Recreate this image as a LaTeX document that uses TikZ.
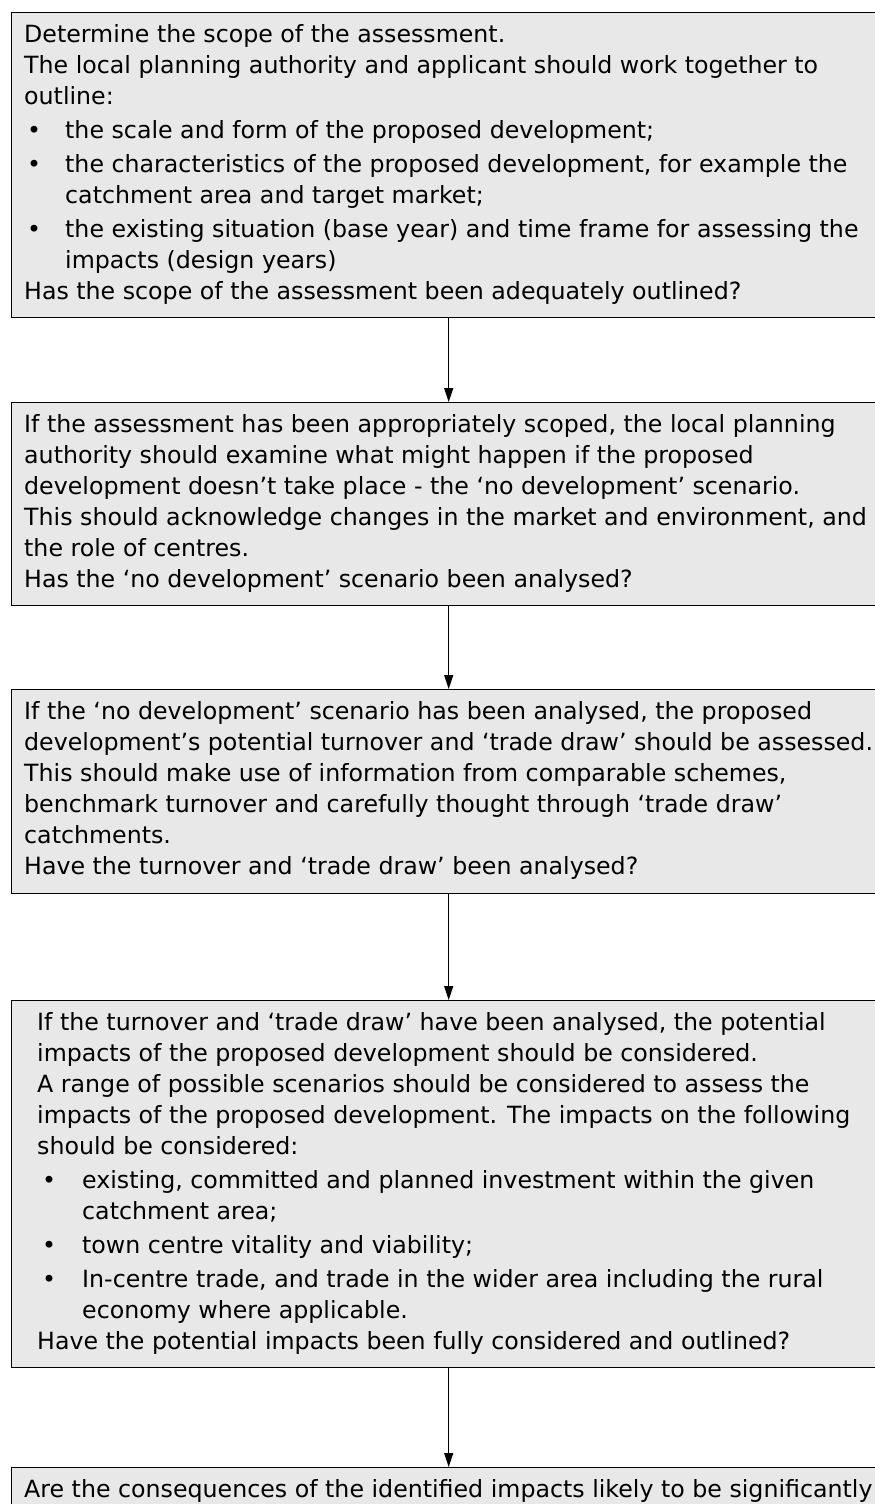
\documentclass[tikz,border=0pt]{standalone}
\usepackage{fontspec}
\setmainfont{DejaVu Sans}
\usetikzlibrary{arrows.meta}
\newcommand\bulA{\makebox[41pt][l]{\hspace{3pt}•}}
\newcommand\contA{\hspace*{41pt}}
\newcommand\bulB{\makebox[45pt][l]{\hspace{5pt}•}}
\newcommand\contB{\hspace*{45pt}}
\begin{document}
\begin{tikzpicture}[x=1pt,y=-1pt,
  flowbox/.style={draw=black, line width=1.4pt, fill=black!9, minimum width=874pt, anchor=north west, inner sep=0pt},
  boxtext/.style={anchor=north west, inner sep=0pt, align=left, font=\fontsize{23.7}{31}\selectfont},
  arr/.style={line width=1.4pt, -{Triangle[length=14pt,width=9pt]}}]
\useasboundingbox (0,0) rectangle (875,1504);
\clip (0,0) rectangle (875,1504);
\fill[white] (0,0) rectangle (875,1504);
% boxes
\node[flowbox, minimum height=305pt] (b1) at (11,12) {};
\node[flowbox, minimum height=203pt] (b2) at (11,402) {};
\node[flowbox, minimum height=204pt] (b3) at (11,689) {};
\node[flowbox, minimum height=367pt] (b4) at (11,1000) {};
\node[flowbox, minimum height=140pt] (b5) at (11,1467) {};
% texts
\node[boxtext] (t1) at (24,24) {Determine the scope of the assessment.\\
The local planning authority and applicant should work together to\\
outline:\\[3pt]
\bulA the scale and form of the proposed development;\\[3pt]
\bulA the characteristics of the proposed development, for example the\\
\contA catchment area and target market;\\[3pt]
\bulA the existing situation (base year) and time frame for assessing the\\
\contA impacts (design years)\\
Has the scope of the assessment been adequately outlined?};
\node[boxtext] (t2) at (24,414) {If the assessment has been appropriately scoped, the local planning\\
authority should examine what might happen if the proposed\\
development doesn’t take place - the ‘no development’ scenario.\\
This should acknowledge changes in the market and environment, and\\
the role of centres.\\
Has the ‘no development’ scenario been analysed?};
\node[boxtext] (t3) at (24,701) {If the ‘no development’ scenario has been analysed, the proposed\\
development’s potential turnover and ‘trade draw’ should be assessed.\\
This should make use of information from comparable schemes,\\
benchmark turnover and carefully thought through ‘trade draw’\\
catchments.\\
Have the turnover and ‘trade draw’ been analysed?};
\node[boxtext] (t4) at (37,1012) {If the turnover and ‘trade draw’ have been analysed, the potential\\
impacts of the proposed development should be considered.\\
A range of possible scenarios should be considered to assess the\\
impacts of the proposed development. The impacts on the following\\
should be considered:\\[3pt]
\bulB existing, committed and planned investment within the given\\
\contB catchment area;\\[3pt]
\bulB town centre vitality and viability;\\[3pt]
\bulB In-centre trade, and trade in the wider area including the rural\\
\contB economy where applicable.\\
Have the potential impacts been fully considered and outlined?};
\node[boxtext] (t5) at (24,1479) {Are the consequences of the identified impacts likely to be significantly};
% arrows
\draw[arr] (b1.south) -- (b2.north);
\draw[arr] (b2.south) -- (b3.north);
\draw[arr] (b3.south) -- (b4.north);
\draw[arr] (b4.south) -- (b5.north);
\end{tikzpicture}
\end{document}
